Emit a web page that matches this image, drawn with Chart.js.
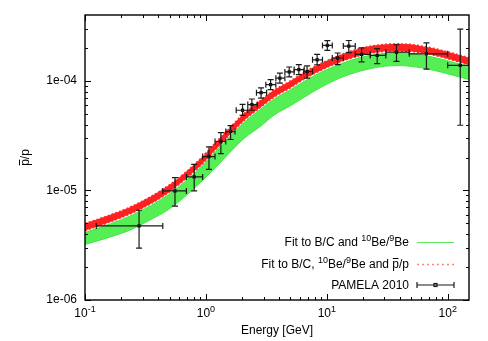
<!DOCTYPE html>
<html>
<head>
<meta charset="utf-8">
<script src="https://cdn.jsdelivr.net/npm/chart.js@4.4.0/dist/chart.umd.min.js"></script>
<style>
html, body { margin: 0; padding: 0; background: #fff; }
</style>
</head>
<body>
<canvas id="c" width="488" height="341"></canvas>
<script>
// model curves: energy grid [GeV] and band edges of pbar/p
const curveE = [0.1, 0.16, 0.24, 0.35, 0.49, 0.67, 0.9, 1.2, 1.6, 2.1, 2.8, 3.7, 5.0, 6.6, 8.8, 13, 19, 28, 40, 60, 87, 150];
const redHi = [4.99e-6, 5.96e-6, 7.12e-6, 8.79e-6, 1.11e-5, 1.45e-5, 1.95e-5, 2.73e-5, 3.82e-5, 5.13e-5, 6.59e-5, 8.31e-5, 1.00e-4, 1.21e-4, 1.43e-4, 1.73e-4, 1.99e-4, 2.14e-4, 2.18e-4, 2.09e-4, 1.92e-4, 1.63e-4];
const redLo = [4.30e-6, 5.14e-6, 6.15e-6, 7.58e-6, 9.55e-6, 1.26e-5, 1.68e-5, 2.36e-5, 3.30e-5, 4.42e-5, 5.69e-5, 7.17e-5, 8.66e-5, 1.05e-4, 1.24e-4, 1.50e-4, 1.71e-4, 1.85e-4, 1.88e-4, 1.81e-4, 1.66e-4, 1.40e-4];
const greenHi = [4.13e-6, 4.93e-6, 5.89e-6, 7.27e-6, 9.16e-6, 1.20e-5, 1.62e-5, 2.26e-5, 3.16e-5, 4.24e-5, 5.46e-5, 6.88e-5, 8.31e-5, 1.00e-4, 1.19e-4, 1.43e-4, 1.64e-4, 1.77e-4, 1.81e-4, 1.73e-4, 1.59e-4, 1.35e-4];
const greenLo = [3.21e-6, 3.75e-6, 4.39e-6, 5.42e-6, 6.69e-6, 8.79e-6, 1.18e-5, 1.62e-5, 2.26e-5, 3.03e-5, 3.82e-5, 4.91e-5, 5.94e-5, 7.17e-5, 8.66e-5, 1.07e-4, 1.23e-4, 1.35e-4, 1.38e-4, 1.32e-4, 1.21e-4, 1.03e-4];

// PAMELA 2010 data with error bars
const pamE   = [0.28, 0.555, 0.80, 1.06, 1.33, 1.60, 2.01, 2.40, 2.86, 3.43, 4.09, 4.89, 5.87, 6.87, 8.32, 10.1, 12.3, 15.2, 19.4, 26.1, 37.7, 66.7, 127];
const pamR   = [4.75e-6, 9.9e-6, 1.33e-5, 2.04e-5, 2.80e-5, 3.45e-5, 5.40e-5, 6.08e-5, 7.81e-5, 9.25e-5, 1.06e-4, 1.21e-4, 1.27e-4, 1.22e-4, 1.56e-4, 2.11e-4, 1.62e-4, 2.08e-4, 1.75e-4, 1.71e-4, 1.83e-4, 1.77e-4, 1.39e-4];
const pamElo = [0.124, 0.44, 0.69, 0.94, 1.19, 1.46, 1.78, 2.22, 2.62, 3.13, 3.79, 4.50, 5.37, 6.45, 7.62, 9.21, 11.1, 13.7, 17.2, 22.9, 30.8, 48.1, 100];
const pamEhi = [0.44, 0.69, 0.94, 1.19, 1.46, 1.74, 2.22, 2.66, 3.18, 3.79, 4.50, 5.37, 6.50, 7.62, 9.21, 11.1, 13.7, 17.2, 22.9, 30.8, 48.1, 100, 180];
const pamRlo = [2.98e-6, 7.2e-6, 9.9e-6, 1.56e-5, 2.17e-5, 2.92e-5, 4.85e-5, 5.40e-5, 6.98e-5, 8.34e-5, 9.57e-5, 1.09e-4, 1.14e-4, 1.06e-4, 1.40e-4, 1.90e-4, 1.41e-4, 1.81e-4, 1.49e-4, 1.44e-4, 1.51e-4, 1.28e-4, 3.94e-5];
const pamRhi = [6.6e-6, 1.31e-5, 1.73e-5, 2.5e-5, 3.38e-5, 3.91e-5, 6.12e-5, 6.84e-5, 8.63e-5, 1.03e-4, 1.18e-4, 1.34e-4, 1.41e-4, 1.37e-4, 1.75e-4, 2.33e-4, 1.80e-4, 2.34e-4, 2.0e-4, 1.97e-4, 2.14e-4, 2.23e-4, 2.97e-4];

// axis ticks
const xMajor = [0.1, 1, 10, 100];
const xMajorExp = ["-1", "0", "1", "2"];
const yMajor = [1e-6, 1e-5, 1e-4];
const yMajorLabels = ["1e-06", "1e-05", "1e-04"];

const FONT = '"Liberation Sans", Arial, Helvetica, sans-serif';

function pts(xs, ys) {
  return xs.map((e, i) => ({ x: e, y: ys[i] }));
}

function minorTicks(min, max) {
  const out = [];
  for (let d = Math.floor(Math.log10(min)); d <= Math.ceil(Math.log10(max)); d++) {
    for (let k = 2; k <= 9; k++) {
      const v = k * Math.pow(10, d);
      if (v > min * 1.0001 && v < max * 0.9999) out.push(v);
    }
  }
  return out;
}

// draws text made of parts: {t}, {t, sup:true}, {t, bar:true}
function richWidth(ctx, parts) {
  let w = 0;
  parts.forEach(p => {
    ctx.font = (p.sup ? "9px " : "12px ") + FONT;
    w += ctx.measureText(p.t).width;
  });
  return w;
}
function drawRich(ctx, parts, x, y) {
  ctx.textAlign = "left";
  ctx.textBaseline = "alphabetic";
  parts.forEach(p => {
    ctx.font = (p.sup ? "9px " : "12px ") + FONT;
    const w = ctx.measureText(p.t).width;
    ctx.fillText(p.t, x, p.sup ? y - 5 : y);
    if (p.bar) {
      ctx.fillRect(x + 0.5, y - 10, w - 1, 1);
    }
    x += w;
  });
}

const gnuplotLook = {
  id: "gnuplotLook",
  afterDatasetsDraw(chart) {
    const { ctx, chartArea: a, scales: { x, y } } = chart;
    ctx.save();
    ctx.beginPath();
    ctx.rect(a.left, a.top, a.right - a.left, a.bottom - a.top);
    ctx.clip();
    ctx.strokeStyle = "#1a1a1a";
    ctx.lineWidth = 1.2;
    const cap = 3;
    pamE.forEach((e, i) => {
      const px = x.getPixelForValue(e), py = y.getPixelForValue(pamR[i]);
      const x0 = x.getPixelForValue(pamElo[i]), x1 = x.getPixelForValue(pamEhi[i]);
      const y0 = y.getPixelForValue(pamRlo[i]), y1 = y.getPixelForValue(pamRhi[i]);
      ctx.beginPath();
      ctx.moveTo(x0, py); ctx.lineTo(x1, py);
      ctx.moveTo(x0, py - cap); ctx.lineTo(x0, py + cap);
      ctx.moveTo(x1, py - cap); ctx.lineTo(x1, py + cap);
      ctx.moveTo(px, y0); ctx.lineTo(px, y1);
      ctx.moveTo(px - cap, y0); ctx.lineTo(px + cap, y0);
      ctx.moveTo(px - cap, y1); ctx.lineTo(px + cap, y1);
      ctx.stroke();
    });
    ctx.restore();
  },
  afterDraw(chart) {
    const { ctx, chartArea: a, scales: { x, y } } = chart;
    ctx.save();
    ctx.strokeStyle = "#000";
    ctx.fillStyle = "#000";

    // ticks, inward on all four sides
    ctx.lineWidth = 1;
    ctx.beginPath();
    const xt = (v, len) => {
      const p = Math.round(x.getPixelForValue(v)) + 0.5;
      ctx.moveTo(p, a.bottom); ctx.lineTo(p, a.bottom - len);
      ctx.moveTo(p, a.top); ctx.lineTo(p, a.top + len);
    };
    const yt = (v, len) => {
      const p = Math.round(y.getPixelForValue(v)) + 0.5;
      ctx.moveTo(a.left, p); ctx.lineTo(a.left + len, p);
      ctx.moveTo(a.right, p); ctx.lineTo(a.right - len, p);
    };
    xMajor.forEach(v => xt(v, 6));
    minorTicks(x.min, x.max).forEach(v => xt(v, 3));
    yMajor.forEach(v => yt(v, 6));
    minorTicks(y.min, y.max).forEach(v => yt(v, 3));
    ctx.stroke();

    // frame
    ctx.lineWidth = 1.4;
    ctx.strokeRect(a.left, a.top, a.right - a.left, a.bottom - a.top);

    // y tick labels
    ctx.font = "12px " + FONT;
    ctx.textAlign = "right";
    ctx.textBaseline = "middle";
    yMajor.forEach((v, i) => ctx.fillText(yMajorLabels[i], a.left - 8, y.getPixelForValue(v)));

    // x tick labels 10^n
    xMajor.forEach((v, i) => {
      const parts = [{ t: "10" }, { t: xMajorExp[i], sup: true }];
      const w = richWidth(ctx, parts);
      drawRich(ctx, parts, x.getPixelForValue(v) - w / 2, a.bottom + 17);
    });

    // axis titles
    ctx.font = "12px " + FONT;
    ctx.textAlign = "center";
    ctx.textBaseline = "alphabetic";
    ctx.fillText("Energy [GeV]", (a.left + a.right) / 2, 334);

    ctx.save();
    ctx.translate(29, (a.top + a.bottom) / 2);
    ctx.rotate(-Math.PI / 2);
    const ytParts = [{ t: "p", bar: true }, { t: "/p" }];
    drawRich(ctx, ytParts, -richWidth(ctx, ytParts) / 2, 0);
    ctx.restore();

    // legend
    const lx = 409, s0 = 417, s1 = 454, sm = (s0 + s1) / 2;
    const rows = [
      [{ t: "Fit to B/C and " }, { t: "10", sup: true }, { t: "Be/" }, { t: "9", sup: true }, { t: "Be" }],
      [{ t: "Fit to B/C, " }, { t: "10", sup: true }, { t: "Be/" }, { t: "9", sup: true }, { t: "Be and " }, { t: "p", bar: true }, { t: "/p" }],
      [{ t: "PAMELA 2010" }],
    ];
    const rowY = [242, 264, 285];
    rows.forEach((parts, i) => {
      drawRich(ctx, parts, lx - richWidth(ctx, parts), rowY[i] + 4);
    });
    // green sample
    ctx.lineWidth = 1;
    ctx.strokeStyle = "#5ee65e";
    ctx.beginPath(); ctx.moveTo(s0, rowY[0] + 0.5); ctx.lineTo(s1, rowY[0] + 0.5); ctx.stroke();
    // red dotted sample
    ctx.strokeStyle = "#ff8080";
    ctx.lineWidth = 1.5;
    ctx.setLineDash([2, 3]);
    ctx.beginPath(); ctx.moveTo(s0, rowY[1] + 0.5); ctx.lineTo(s1, rowY[1] + 0.5); ctx.stroke();
    ctx.setLineDash([]);
    // PAMELA sample
    ctx.strokeStyle = "#1a1a1a";
    ctx.lineWidth = 1.2;
    ctx.beginPath();
    ctx.moveTo(s0, rowY[2]); ctx.lineTo(s1, rowY[2]);
    ctx.moveTo(s0, rowY[2] - 3); ctx.lineTo(s0, rowY[2] + 3);
    ctx.moveTo(s1, rowY[2] - 3); ctx.lineTo(s1, rowY[2] + 3);
    ctx.stroke();
    ctx.strokeRect(sm - 1.5, rowY[2] - 1.5, 3, 3);

    ctx.restore();
  },
};

const ctx = document.getElementById("c").getContext("2d");
new Chart(ctx, {
  type: "line",
  data: {
    datasets: [
      {
        label: "PAMELA 2010",
        type: "scatter",
        data: pts(pamE, pamR),
        showLine: false,
        pointStyle: "rect",
        pointRadius: 2.3,
        backgroundColor: "#000",
        borderColor: "#000",
        borderWidth: 0,
      },
      {
        label: "red upper",
        data: pts(curveE, redHi),
        borderColor: "#ff2a2a",
        borderWidth: 1.5,
        borderDash: [2, 2],
        pointRadius: 0,
        cubicInterpolationMode: "monotone",
        fill: false,
      },
      {
        label: "Fit to B/C, 10Be/9Be and pbar/p",
        data: pts(curveE, redLo),
        borderColor: "#ff2a2a",
        borderWidth: 1.5,
        borderDash: [2, 2],
        pointRadius: 0,
        cubicInterpolationMode: "monotone",
        fill: "-1",
        backgroundColor: "rgba(255, 8, 8, 0.9)",
      },
      {
        label: "green upper",
        data: pts(curveE, greenHi),
        borderColor: "#3ee83e",
        borderWidth: 1,
        pointRadius: 0,
        cubicInterpolationMode: "monotone",
        fill: false,
      },
      {
        label: "Fit to B/C and 10Be/9Be",
        data: pts(curveE, greenLo),
        borderColor: "#3ee83e",
        borderWidth: 1,
        pointRadius: 0,
        cubicInterpolationMode: "monotone",
        fill: "-1",
        backgroundColor: "rgba(20, 232, 20, 0.72)",
      },
    ],
  },
  options: {
    responsive: false,
    animation: false,
    layout: { padding: { left: 0, right: 19, top: 15, bottom: 0 } },
    plugins: { legend: { display: false }, tooltip: { enabled: false } },
    scales: {
      x: {
        type: "logarithmic",
        min: 0.1,
        max: 150,
        grid: { display: false },
        border: { display: false },
        ticks: { display: false },
        afterFit: s => { s.height = 41; },
      },
      y: {
        type: "logarithmic",
        min: 1e-6,
        max: 4e-4,
        grid: { display: false },
        border: { display: false },
        ticks: { display: false },
        afterFit: s => { s.width = 85; },
      },
    },
  },
  plugins: [gnuplotLook],
});
</script>
</body>
</html>
